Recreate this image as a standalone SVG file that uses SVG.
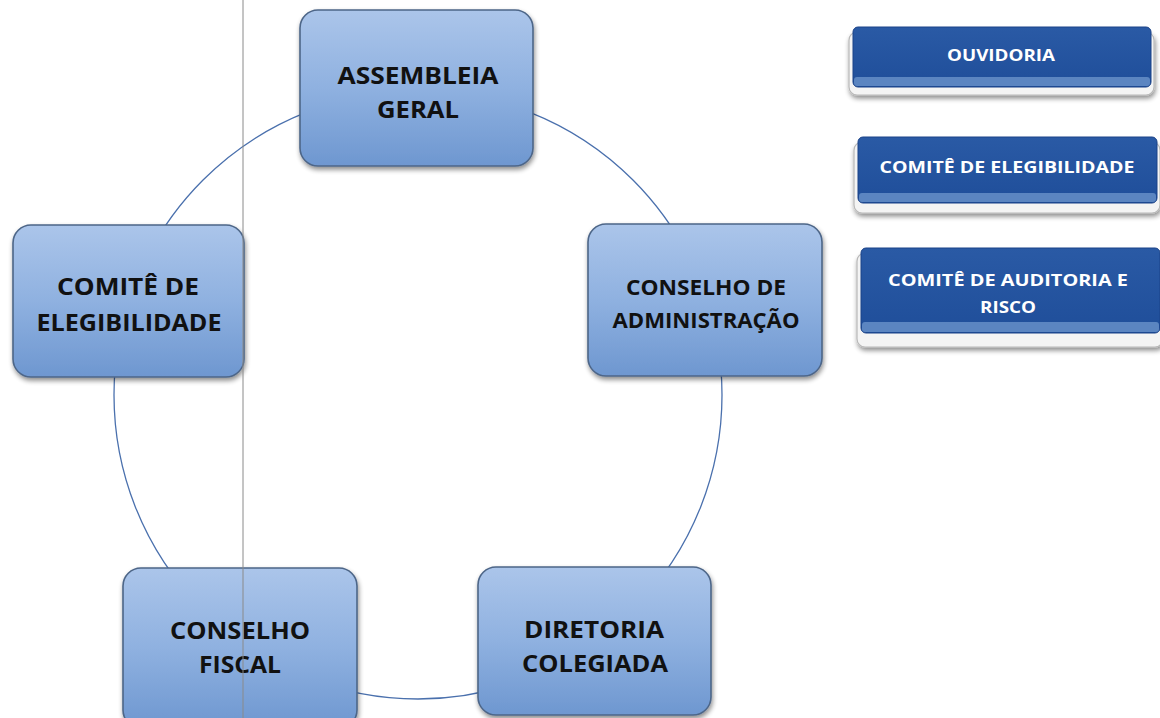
<svg xmlns="http://www.w3.org/2000/svg" width="1160" height="718" viewBox="0 0 1160 718">
<defs>
<linearGradient id="gb" x1="0" y1="0" x2="0" y2="1">
<stop offset="0" stop-color="#abc5ea"/>
<stop offset="0.5" stop-color="#8fb1e0"/>
<stop offset="1" stop-color="#6e97d0"/>
</linearGradient>
<linearGradient id="gd" x1="0" y1="0" x2="0" y2="1">
<stop offset="0" stop-color="#2a5aa5"/>
<stop offset="1" stop-color="#1f4e9a"/>
</linearGradient>
<filter id="sh" x="-10%" y="-10%" width="120%" height="130%">
<feGaussianBlur in="SourceAlpha" stdDeviation="2.5"/>
<feOffset dx="1" dy="3"/>
<feComponentTransfer><feFuncA type="linear" slope="0.45"/></feComponentTransfer>
<feMerge><feMergeNode/><feMergeNode in="SourceGraphic"/></feMerge>
</filter>
</defs>
<style>
.box{fill:url(#gb);stroke:#4d6688;stroke-width:1.6;filter:url(#sh)}
.t{font-family:"Open Sans","Noto Sans",sans-serif;font-weight:bold;fill:#111;text-anchor:middle}
.plate{fill:#f4f4f4;stroke:#b8b8b8;stroke-width:1.2;filter:url(#sh)}
.dk{fill:url(#gd);stroke:#1b4288;stroke-width:1}
.strip{fill:#5b85c1}
.w{font-family:"Open Sans","Noto Sans",sans-serif;font-weight:bold;fill:#fff;text-anchor:middle;font-size:16.5px}
</style>
<rect width="1160" height="718" fill="#ffffff"/>
<g id="connectors">
<circle cx="418" cy="395" r="304" fill="none" stroke="#4a70ad" stroke-width="1.3"/>
</g>
<g id="assembleia">
<rect class="box" x="300" y="10" width="233" height="156" rx="18"/>
<text class="t" x="418" y="84" font-size="24" textLength="161" lengthAdjust="spacingAndGlyphs">ASSEMBLEIA</text>
<text class="t" x="418" y="118" font-size="24" textLength="82" lengthAdjust="spacingAndGlyphs">GERAL</text>
</g>
<g id="conselho-adm">
<rect class="box" x="588" y="224" width="234" height="152" rx="18"/>
<text class="t" x="706" y="295" font-size="21" textLength="160" lengthAdjust="spacingAndGlyphs">CONSELHO DE</text>
<text class="t" x="706" y="328" font-size="21" textLength="187" lengthAdjust="spacingAndGlyphs">ADMINISTRAÇÃO</text>
</g>
<g id="comite-eleg">
<rect class="box" x="13" y="225" width="231" height="152" rx="18"/>
<text class="t" x="128" y="295" font-size="24" textLength="142" lengthAdjust="spacingAndGlyphs">COMITÊ DE</text>
<text class="t" x="129" y="331" font-size="24" textLength="185" lengthAdjust="spacingAndGlyphs">ELEGIBILIDADE</text>
</g>
<g id="conselho-fiscal">
<rect class="box" x="123" y="568" width="234" height="160" rx="18"/>
<text class="t" x="240" y="639" font-size="24" textLength="140" lengthAdjust="spacingAndGlyphs">CONSELHO</text>
<text class="t" x="240" y="673" font-size="24" textLength="82" lengthAdjust="spacingAndGlyphs">FISCAL</text>
</g>
<g id="diretoria">
<rect class="box" x="478" y="567" width="233" height="148" rx="18"/>
<text class="t" x="594" y="638" font-size="24" textLength="140" lengthAdjust="spacingAndGlyphs">DIRETORIA</text>
<text class="t" x="595" y="672" font-size="24" textLength="146" lengthAdjust="spacingAndGlyphs">COLEGIADA</text>
</g>
<line x1="243" y1="0" x2="243" y2="718" stroke="#8a8a8a" stroke-width="1"/>
<g id="ouvidoria">
<rect class="plate" x="849" y="32" width="305" height="63" rx="8"/>
<rect class="dk" x="853" y="27" width="298" height="60" rx="5"/>
<rect class="strip" x="854" y="77" width="296" height="9" rx="3"/>
<text class="w" x="1001" y="61" textLength="108" lengthAdjust="spacingAndGlyphs">OUVIDORIA</text>
</g>
<g id="comite-eleg-r">
<rect class="plate" x="854" y="142" width="306" height="71" rx="8"/>
<rect class="dk" x="858" y="137" width="299" height="66" rx="5"/>
<rect class="strip" x="859" y="193" width="297" height="9" rx="3"/>
<text class="w" x="1007" y="173" textLength="255" lengthAdjust="spacingAndGlyphs">COMITÊ DE ELEGIBILIDADE</text>
</g>
<g id="comite-aud">
<rect class="plate" x="857" y="253" width="306" height="94" rx="8"/>
<rect class="dk" x="861" y="248" width="299" height="85" rx="5"/>
<rect class="strip" x="862" y="322" width="297" height="10" rx="3"/>
<text class="w" x="1008" y="286" textLength="240" lengthAdjust="spacingAndGlyphs">COMITÊ DE AUDITORIA E</text>
<text class="w" x="1008" y="313" textLength="56" lengthAdjust="spacingAndGlyphs">RISCO</text>
</g>
</svg>
